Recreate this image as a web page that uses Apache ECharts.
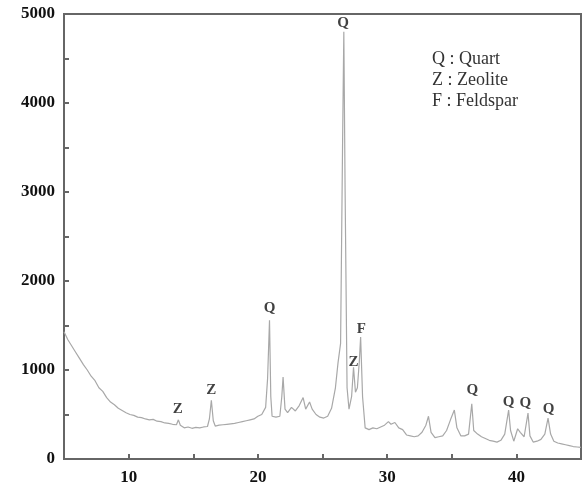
<!DOCTYPE html>
<html>
<head>
<meta charset="utf-8">
<script src="https://cdn.jsdelivr.net/npm/echarts@6/dist/echarts.min.js"></script>
<style>html,body{margin:0;padding:0;background:#fff}#c{width:585px;height:493px}</style>
</head>
<body>
<div id="c"></div>
<script>
const twoTheta = [5.0,5.3,5.6,5.9,6.2,6.5,6.8,7.1,7.4,7.7,8.0,8.3,8.6,8.9,9.2,9.5,9.8,10.1,10.4,10.7,11.0,11.3,11.6,11.9,12.2,12.5,12.8,13.1,13.4,13.7,13.85,14.0,14.3,14.6,14.9,15.2,15.5,15.8,16.1,16.25,16.4,16.55,16.7,17.0,17.3,17.6,17.9,18.2,18.5,18.8,19.1,19.4,19.7,20.0,20.3,20.6,20.75,20.9,21.0,21.1,21.4,21.7,21.85,21.95,22.1,22.3,22.6,22.9,23.2,23.5,23.7,24.0,24.2,24.5,24.8,25.1,25.4,25.7,26.0,26.2,26.4,26.55,26.65,26.75,26.9,27.05,27.25,27.4,27.55,27.7,27.85,27.95,28.1,28.3,28.6,28.9,29.2,29.5,29.8,30.1,30.3,30.6,30.9,31.2,31.5,31.8,32.1,32.4,32.7,33.0,33.2,33.4,33.7,34.0,34.3,34.6,34.9,35.2,35.4,35.7,36.0,36.3,36.55,36.7,37.0,37.3,37.6,37.9,38.2,38.5,38.8,39.1,39.4,39.55,39.8,40.1,40.3,40.6,40.9,41.05,41.3,41.6,41.9,42.2,42.45,42.65,42.9,43.2,43.5,43.8,44.1,44.4,44.7,45.0];
const intensity = [1430,1340,1270,1200,1130,1060,1000,930,880,800,760,690,640,610,570,545,520,500,490,470,465,450,440,445,425,420,405,400,390,385,440,380,350,360,345,355,350,360,365,450,660,430,370,380,385,390,395,400,410,420,430,440,450,480,500,580,900,1560,700,480,470,480,700,920,560,520,580,540,600,690,560,640,560,500,470,460,480,570,800,1080,1300,3500,4800,3000,800,560,700,1030,750,800,1100,1370,700,350,330,350,340,360,380,420,390,410,350,330,270,260,250,260,300,380,480,300,240,250,260,320,440,550,350,260,260,280,620,320,280,250,230,210,200,190,210,280,550,320,200,340,300,250,515,260,190,200,220,280,460,280,200,180,170,160,150,140,135,130];
const annotText = ['Q','Q','Z','Z','Z','F','Q','Q','Q','Q'];
const annotX = [26.6,20.9,16.4,13.8,27.4,28.0,36.6,39.4,40.7,42.5];
const annotY = [4900,1700,775,560,1090,1460,775,640,630,560];
const legendLines = ['Q : Quart','Z : Zeolite','F : Feldspar'];
const xTicks = [10,20,30,40];
const yTicks = [0,1000,2000,3000,4000,5000];

const chart = echarts.init(document.getElementById('c'));
const serif = '"Liberation Serif","DejaVu Serif",serif';
chart.setOption({
  animation: false,
  grid: {left: 64, right: 4, top: 14, bottom: 34, show: true, borderColor: '#666', borderWidth: 2},
  xAxis: {
    type: 'value', min: 5, max: 45, interval: 5,
    axisLine: {lineStyle: {color: '#666', width: 2}},
    axisTick: {inside: true, length: 5, lineStyle: {color: '#666', width: 2}},
    splitLine: {show: false},
    axisLabel: {margin: 10, color: '#111', fontFamily: serif, fontWeight: 'bold', fontSize: 17,
      formatter: v => xTicks.includes(v) ? String(v) : ''}
  },
  yAxis: {
    type: 'value', min: 0, max: 5000, interval: 500,
    axisLine: {show: true, lineStyle: {color: '#666', width: 2}},
    axisTick: {show: true, inside: true, length: 5, lineStyle: {color: '#666', width: 2}},
    splitLine: {show: false},
    axisLabel: {margin: 9, color: '#111', fontFamily: serif, fontWeight: 'bold', fontSize: 17,
      formatter: v => yTicks.includes(v) ? String(v) : ''}
  },
  series: [
    {type: 'line', data: twoTheta.map((x, i) => [x, intensity[i]]), symbol: 'none',
     lineStyle: {color: '#a8a8a8', width: 1.2}},
    {type: 'scatter', symbol: 'circle', symbolSize: 1,
     itemStyle: {color: 'rgba(0,0,0,0)'},
     data: annotX.map((x, i) => ({value: [x, annotY[i]], name: annotText[i]})),
     label: {show: true, position: 'inside', formatter: p => p.name, color: '#111',
       fontFamily: serif, fontWeight: 'bold', fontSize: 15}}
  ],
  graphic: legendLines.map((t, i) => ({
    type: 'text', left: 432, top: 50 + i * 21,
    style: {text: t, fill: '#333', font: '18px ' + serif}
  }))
});
</script>
</body>
</html>
